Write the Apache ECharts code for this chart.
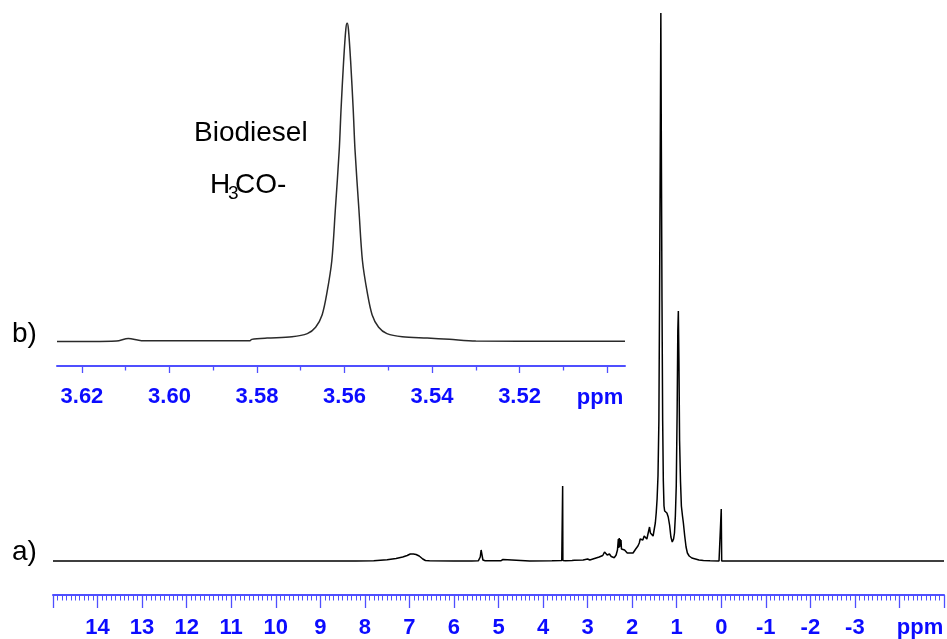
<!DOCTYPE html>
<html>
<head>
<meta charset="utf-8">
<script src="https://cdn.jsdelivr.net/npm/echarts@6/dist/echarts.min.js"></script>
<style>
  html, body { margin: 0; padding: 0; background: #fff; }
  #chart { width: 947px; height: 639px; }
</style>
</head>
<body>
<div id="chart"></div>
<script>
// ---------- data: full 1H NMR spectrum (a) ----------
const mainShift = [
  15, 10, 8.2, 7.8, 7.5, 7.3, 7.15, 7.05, 6.98, 6.94, 6.91, 6.88, 6.85, 6.82, 6.78, 6.74, 6.70, 6.64, 6.55,
  6.0, 5.6, 5.45, 5.41, 5.39, 5.37, 5.35, 5.30, 4.95, 4.90, 4.87, 4.3, 3.8, 3.58, 3.565, 3.56, 3.555, 3.50,
  3.35, 3.30, 3.10, 3.00, 2.95, 2.88, 2.84, 2.81, 2.77, 2.74, 2.70, 2.66, 2.62, 2.59, 2.56, 2.51, 2.47, 2.44,
  2.40, 2.36, 2.33, 2.31, 2.30, 2.29, 2.28, 2.27, 2.26, 2.25, 2.24, 2.22, 2.20, 2.17, 2.14, 2.11, 2.08, 2.05,
  2.02, 1.98, 1.95, 1.92, 1.90, 1.87, 1.84, 1.82, 1.80, 1.78, 1.76, 1.73, 1.70, 1.67, 1.65, 1.63, 1.61, 1.59,
  1.56, 1.53, 1.50, 1.48, 1.46, 1.44, 1.42, 1.40, 1.385, 1.37, 1.356, 1.345, 1.33, 1.315, 1.30, 1.285, 1.27,
  1.25, 1.22, 1.19, 1.16, 1.13, 1.10, 1.07, 1.05, 1.03, 1.01, 0.99, 0.975, 0.963, 0.95, 0.935, 0.915, 0.895,
  0.87, 0.85, 0.82, 0.79, 0.76, 0.72, 0.66, 0.58, 0.50, 0.40, 0.25, 0.05, 0.01, 0.0, -0.01, -1, -5
];
const mainIntensity = [
  0, 0, 0, 0.3, 1.2, 2.5, 4, 5.5, 7, 8.5, 7, 9, 6.5, 8, 5, 4, 2, 0.5, 0.2,
  0, 0, 0.3, 4, 11, 9, 1, 0.2, 0.2, 1.5, 0.2, 0, 0.2, 0.4, 0.5, 75, 0.5, 0.3,
  0.5, 0.8, 1, 2, 1, 2, 4, 3, 5, 4, 6, 5.5, 9, 10, 6, 7, 4.5, 5,
  3.3, 6, 11, 22, 13, 23, 14, 22, 16, 21, 12, 14, 10, 11, 12, 8, 7, 8,
  9, 8, 10, 12, 14, 15, 18, 22, 24, 20, 21, 25, 26, 22, 22, 30, 34, 28,
  27, 25, 27, 38, 48, 62, 85, 140, 260, 400, 548, 420, 260, 140, 80, 55, 50,
  52, 48, 44, 36, 24, 19, 22, 28, 45, 75, 150, 230, 250, 200, 120, 80, 55,
  45, 38, 25, 14, 8, 5, 3, 2, 1, 0.5, 0.2, 0, 0, 52, 0, 0, 0
];

// ---------- data: expanded methyl ester region (b) ----------
const insetShift = [
  3.6257, 3.6121, 3.6094, 3.6064, 3.5816, 3.5812, 3.5777, 3.5720, 3.5685, 3.5666, 3.5651, 3.5640, 3.5629,
  3.5621, 3.5612, 3.5608, 3.5602, 3.5597, 3.5594, 3.5591, 3.5586, 3.5580, 3.5576, 3.5567, 3.5559, 3.5548,
  3.5537, 3.5522, 3.5503, 3.5468, 3.5411, 3.5360, 3.5300, 3.5100, 3.4959
];
const insetIntensity = [
  -0.5, -0.3, 0.5, -0.2, -0.2, 0.2, 0.6, 1.0, 2.0, 4.0, 8.0, 15, 25,
  41, 60, 72.5, 88, 98, 100, 98, 88, 72.5, 60, 41, 25, 15,
  8.0, 4.0, 2.0, 1.0, 0.6, 0.2, -0.3, -0.4, -0.4
];

// ---------- axis tick labels ----------
const mainTickLabels = [14, 13, 12, 11, 10, 9, 8, 7, 6, 5, 4, 3, 2, 1, 0, -1, -2, -3];
const insetMajorTicks = [3.62, 3.60, 3.58, 3.56, 3.54, 3.52, 3.50];
const insetTickLabels = [3.62, 3.60, 3.58, 3.56, 3.54, 3.52];
const insetMinorTicks = [3.61, 3.59, 3.57, 3.55, 3.53, 3.51];

const mainData = mainShift.map((s, i) => [s, mainIntensity[i]]);
const insetData = insetShift.map((s, i) => [s, insetIntensity[i]]);

const axisBlue = '#4f4fff';
const labelBlue = '#0c0cff';
const labelFont = { color: labelBlue, fontSize: 22, fontWeight: 'bold', fontFamily: 'Liberation Sans, Arial, sans-serif', lineHeight: 22 };

const chart = echarts.init(document.getElementById('chart'), null, { renderer: 'canvas' });
chart.setOption({
  animation: false,
  backgroundColor: '#ffffff',
  grid: [
    { left: 53, top: 13, width: 892, height: 582 },
    { left: 57, top: 23, width: 568, height: 343 }
  ],
  xAxis: [
    {
      type: 'value', gridIndex: 0, position: 'bottom', min: -5, max: 15, interval: 1, inverse: true,
      axisLine: { onZero: false, lineStyle: { color: axisBlue, width: 2 } },
      axisTick: { length: 13, lineStyle: { color: axisBlue, width: 1.3 } },
      minorTick: { show: true, splitNumber: 10, length: 5.5, lineStyle: { color: axisBlue, width: 1 } },
      splitLine: { show: false },
      axisLabel: Object.assign({
        margin: 22,
        showMinLabel: true, showMaxLabel: true,
        formatter: v => (mainTickLabels.indexOf(v) >= 0 ? String(v) : '')
      }, labelFont)
    },
    {
      type: 'value', gridIndex: 1, position: 'bottom', min: 3.4959, max: 3.6257, inverse: true,
      axisLine: { onZero: false, lineStyle: { color: axisBlue, width: 2 } },
      axisTick: { length: 7, customValues: insetMajorTicks, lineStyle: { color: axisBlue, width: 1.3 } },
      splitLine: { show: false },
      axisLabel: Object.assign({
        margin: 20,
        customValues: insetTickLabels,
        formatter: v => v.toFixed(2)
      }, labelFont)
    },
    {
      type: 'value', gridIndex: 1, position: 'bottom', min: 3.4959, max: 3.6257, inverse: true,
      axisLine: { show: false, onZero: false },
      axisTick: { length: 4.5, customValues: insetMinorTicks, lineStyle: { color: axisBlue, width: 1.3 } },
      splitLine: { show: false },
      axisLabel: { show: false }
    }
  ],
  yAxis: [
    { type: 'value', gridIndex: 0, min: -34, max: 548, show: false, splitLine: { show: false } },
    { type: 'value', gridIndex: 1, min: -8.2, max: 100, show: false, splitLine: { show: false } }
  ],
  series: [
    {
      type: 'line', xAxisIndex: 0, yAxisIndex: 0, data: mainData,
      showSymbol: false, symbol: 'none',
      lineStyle: { color: '#000000', width: 1.5 }
    },
    {
      type: 'line', xAxisIndex: 1, yAxisIndex: 1, data: insetData,
      showSymbol: false, symbol: 'none', smooth: 0.3,
      lineStyle: { color: '#2a2a2a', width: 1.5 }
    }
  ],
  graphic: [
    { type: 'text', style: { text: 'ppm', x: 920, y: 628, fill: labelBlue, font: 'bold 22px "Liberation Sans", Arial, sans-serif', align: 'center', verticalAlign: 'middle' } },
    { type: 'text', style: { text: 'ppm', x: 600, y: 398, fill: labelBlue, font: 'bold 22px "Liberation Sans", Arial, sans-serif', align: 'center', verticalAlign: 'middle' } },
    { type: 'text', style: { text: 'Biodiesel', x: 194, y: 133, fill: '#000', font: '28px "Liberation Sans", Arial, sans-serif', align: 'left', verticalAlign: 'middle' } },
    { type: 'text', style: { text: 'H', x: 210, y: 185, fill: '#000', font: '28px "Liberation Sans", Arial, sans-serif', align: 'left', verticalAlign: 'middle' } },
    { type: 'text', style: { text: '3', x: 228, y: 194, fill: '#000', font: '19px "Liberation Sans", Arial, sans-serif', align: 'left', verticalAlign: 'middle' } },
    { type: 'text', style: { text: 'CO-', x: 235, y: 185, fill: '#000', font: '28px "Liberation Sans", Arial, sans-serif', align: 'left', verticalAlign: 'middle' } },
    { type: 'text', style: { text: 'b)', x: 12, y: 334, fill: '#000', font: '28px "Liberation Sans", Arial, sans-serif', align: 'left', verticalAlign: 'middle' } },
    { type: 'text', style: { text: 'a)', x: 12, y: 552, fill: '#000', font: '28px "Liberation Sans", Arial, sans-serif', align: 'left', verticalAlign: 'middle' } }
  ]
});
</script>
</body>
</html>
